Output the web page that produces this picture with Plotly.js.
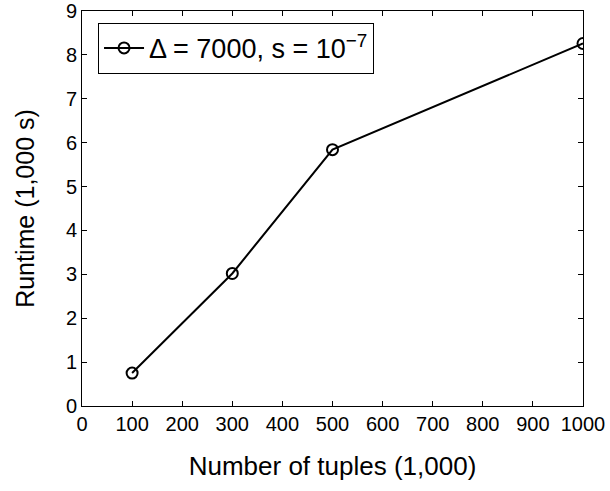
<!DOCTYPE html>
<html><head><meta charset="utf-8">
<script src="https://cdn.plot.ly/plotly-3.0.1.min.js"></script>
<style>body{margin:0;padding:0;background:#fff}#c{width:610px;height:491px}</style>
</head><body><div id="c"></div>
<script>
const tuples = [100, 300, 500, 1000];
const runtime = [0.75, 3.02, 5.84, 8.26];
const seriesName = 'Δ = 7000, s = 10<sup>−7</sup>';
const xTicks = [0,100,200,300,400,500,600,700,800,900,1000];
const yTicks = [0,1,2,3,4,5,6,7,8,9];

const font = {family: 'Liberation Sans, Arial, sans-serif', color: '#000'};
Plotly.newPlot('c', [{
  x: tuples, y: runtime, name: seriesName, type: 'scatter', mode: 'lines+markers',
  line: {color: '#000', width: 2},
  marker: {symbol: 'circle-open', size: 11, color: '#000', line: {width: 2, color: '#000'}}
}], {
  width: 610, height: 491,
  margin: {l: 82, r: 27, t: 11, b: 85},
  paper_bgcolor: '#fff', plot_bgcolor: '#fff',
  font: Object.assign({size: 20}, font),
  showlegend: true,
  legend: {x: 0.032, y: 0.97, xanchor: 'left', yanchor: 'top', bordercolor: '#000', borderwidth: 1,
    bgcolor: '#fff', font: Object.assign({size: 27}, font), itemwidth: 40},
  xaxis: {range: [0, 1000], tickvals: xTicks, ticktext: xTicks.map(String), ticks: 'inside', ticklen: 5,
    tickcolor: '#000', showline: true, linecolor: '#000', linewidth: 1, mirror: 'ticks', showgrid: false, zeroline: false,
    title: {text: 'Number of tuples (1,000)', font: Object.assign({size: 26}, font), standoff: 22},
    tickfont: Object.assign({size: 20}, font)},
  yaxis: {range: [0, 9], tickvals: yTicks, ticktext: yTicks.map(String), ticks: 'inside', ticklen: 5,
    tickcolor: '#000', showline: true, linecolor: '#000', linewidth: 1, mirror: 'ticks', showgrid: false, zeroline: false,
    title: {text: 'Runtime (1,000 s)', font: Object.assign({size: 25}, font), standoff: 24},
    tickfont: Object.assign({size: 20}, font)}
}, {displayModeBar: false, staticPlot: true});
</script></body></html>
